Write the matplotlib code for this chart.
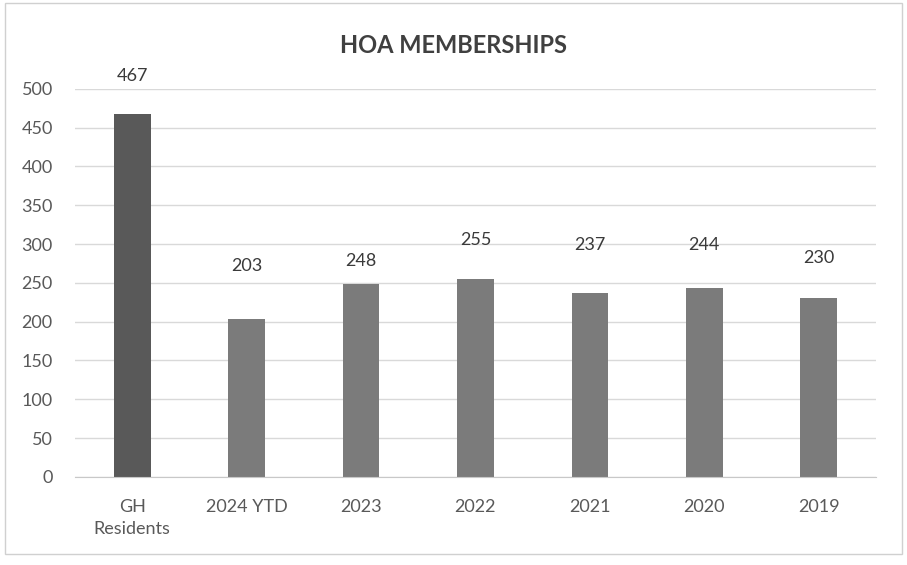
import matplotlib.pyplot as plt
from matplotlib.patches import Rectangle

categories = ["GH\nResidents", "2024 YTD", "2023", "2022", "2021", "2020", "2019"]
members = [467, 203, 248, 255, 237, 244, 230]
# the scanned labels sit at uneven heights above the bars (pixels)
label_gap = [38, 53, 23, 39, 48, 43, 40]
bar_colors = ["#595959"] + ["#7b7b7b"] * 6

plt.rcParams["font.family"] = ["Lato", "DejaVu Sans"]

fig = plt.figure(figsize=(9.07, 5.65), dpi=100)
ax = fig.add_axes([0.0827, 0.156, 0.883, 0.6867])

x = range(len(categories))
ax.bar(x, members, width=0.32, color=bar_colors, zorder=2)

for i, v in enumerate(members):
    ax.annotate(str(v), (i, v), xytext=(0, label_gap[i] * 0.72), textcoords="offset points",
                ha="center", va="center", fontsize=13, color="#3a3a3a", annotation_clip=False)

ax.set_ylim(0, 500)
ax.set_xlim(-0.5, len(categories) - 0.5)
ax.set_yticks(range(0, 501, 50))
ax.set_xticks(list(x))
ax.set_xticklabels(categories, linespacing=1.45)
ax.yaxis.grid(True, color="#d9d9d9", linewidth=1, zorder=0)
for s in ["top", "right", "left"]:
    ax.spines[s].set_visible(False)
ax.spines["bottom"].set_color("#c8c8c8")
ax.tick_params(axis="both", length=0, labelsize=13, colors="#595959")
ax.tick_params(axis="x", pad=16)
ax.tick_params(axis="y", pad=16)

fig.text(0.5, 0.92, "HOA MEMBERSHIPS", ha="center", va="center",
         fontsize=17, fontweight="bold", color="#404040")

fig.patches.append(Rectangle((0.005, 0.02), 0.99, 0.975, transform=fig.transFigure,
                             fill=False, edgecolor="#d0d0d0", linewidth=1))

fig.savefig("out.png", dpi=100)
